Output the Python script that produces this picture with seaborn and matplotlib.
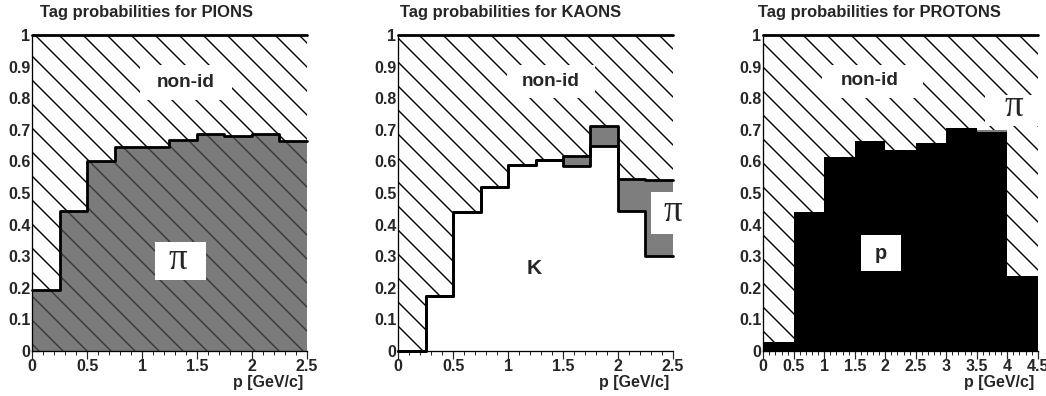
import numpy as np
import matplotlib
matplotlib.use("Agg")
import matplotlib.pyplot as plt
from matplotlib.patches import Rectangle
from matplotlib.ticker import MultipleLocator, FormatStrFormatter
import seaborn as sns

# --- data (tag probability per momentum bin) ---
pk_edges = [0.0, 0.25, 0.5, 0.75, 1.0, 1.25, 1.5, 1.75, 2.0, 2.25, 2.5]
proton_edges = [0.0, 0.5, 1.0, 1.5, 2.0, 2.5, 3.0, 3.5, 4.0, 4.5]

pions_pi = [0.193, 0.444, 0.602, 0.647, 0.647, 0.668, 0.686, 0.680, 0.688, 0.664]

kaons_k = [0.0, 0.174, 0.440, 0.520, 0.588, 0.605, 0.586, 0.649, 0.442, 0.300]
kaons_pi = [0.0, 0.0, 0.0, 0.0, 0.0, 0.0, 0.032, 0.064, 0.103, 0.241]

protons_p = [0.030, 0.441, 0.615, 0.666, 0.636, 0.659, 0.705, 0.692, 0.237]
protons_pi = [0.0, 0.0, 0.0, 0.0, 0.0, 0.0, 0.0, 0.008, 0.0]

titles = ["Tag probabilities for PIONS", "Tag probabilities for KAONS",
          "Tag probabilities for PROTONS"]

sns.set_style("white")
plt.rcParams["font.family"] = ["Liberation Sans", "DejaVu Sans"]
plt.rcParams["font.weight"] = "bold"
plt.rcParams["hatch.linewidth"] = 1.4

DPI = 72
W, H = 1046, 396
fig = plt.figure(figsize=(W / DPI, H / DPI), dpi=DPI)

CHECKER = "#7e7e7e"
LW = 2.8
TICK_FS = 16


def centers(edges):
    e = np.asarray(edges)
    return (e[:-1] + e[1:]) / 2


def layer(ax, edges, heights, **kw):
    sns.histplot(x=centers(edges), weights=heights, bins=edges, element="step",
                 fill=True, linewidth=0, ax=ax, **kw)


def outline(ax, edges, heights):
    sns.histplot(x=centers(edges), weights=heights, bins=edges, element="step",
                 fill=False, color="black", linewidth=LW, ax=ax, clip_on=False)


def label_box(ax, x0, x1, y0, y1):
    ax.add_patch(Rectangle((x0, y0), x1 - x0, y1 - y0, facecolor="white",
                           edgecolor="none", zorder=5))


def pi_text(ax, x, y):
    ax.text(x, y, "\u03c0", family="Liberation Serif", fontweight="normal",
            fontsize=37, ha="center", va="center", zorder=6, clip_on=False)


def style_axes(ax, edges, title_x):
    ax.set_xlim(edges[0], edges[-1])
    ax.set_ylim(0, 1)
    for s in ["top", "right"]:
        ax.spines[s].set_visible(False)
    for s in ["left", "bottom"]:
        ax.spines[s].set_linewidth(1.3)
        ax.spines[s].set_color("black")
        ax.spines[s].set_zorder(7)
    ax.yaxis.set_major_locator(MultipleLocator(0.1))
    ax.yaxis.set_minor_locator(MultipleLocator(0.02))
    ax.xaxis.set_major_locator(MultipleLocator(0.5))
    ax.xaxis.set_minor_locator(MultipleLocator(0.1))
    ax.yaxis.set_major_formatter(FormatStrFormatter("%g"))
    ax.xaxis.set_major_formatter(FormatStrFormatter("%g"))
    ax.tick_params(axis="y", which="major", direction="in", length=8, width=1.2,
                   labelsize=TICK_FS, pad=2, left=True)
    ax.tick_params(axis="y", which="minor", direction="in", length=4, width=1, left=True)
    ax.tick_params(axis="x", which="major", direction="out", length=8, width=1.2,
                   labelsize=TICK_FS, pad=0, bottom=True)
    ax.tick_params(axis="x", which="minor", direction="out", length=4, width=1, bottom=True)
    for lab in ax.get_xticklabels() + ax.get_yticklabels():
        lab.set_fontweight("bold")
    ax.set_ylabel("")
    ax.set_xlabel("p [GeV/c]", fontsize=16, fontweight="bold", ha="right", va="top")
    ax.xaxis.set_label_coords(0.988, -0.076)
    fig.text(title_x / W, 1 - 13 / H, ax.get_label(), fontsize=16.5, fontweight="bold",
             ha="left", va="center")


ax_w, ax_h = 274.4 / W, 316 / H
ax_b = 45 / H

# ---------------- PIONS ----------------
ax1 = fig.add_axes([32.3 / W, ax_b, ax_w, ax_h], label=titles[0])
ones = np.ones(len(pions_pi))
layer(ax1, pk_edges, ones, facecolor="white", edgecolor="black", hatch="\\")
layer(ax1, pk_edges, pions_pi, facecolor=(0.30, 0.30, 0.30, 0.74), edgecolor="none")
outline(ax1, pk_edges, ones)
outline(ax1, pk_edges, pions_pi)
label_box(ax1, 0.98, 1.82, 0.795, 0.905)
ax1.text(1.40, 0.85, "non-id", fontsize=19, ha="center", va="center", zorder=6)
label_box(ax1, 1.117, 1.582, 0.225, 0.345)
pi_text(ax1, 1.33, 0.29)
style_axes(ax1, pk_edges, 40)

# ---------------- KAONS ----------------
ax2 = fig.add_axes([398.3 / W, ax_b, ax_w, ax_h], label=titles[1])
kaons_tot = np.array(kaons_k) + np.array(kaons_pi)
layer(ax2, pk_edges, ones, facecolor="white", edgecolor="black", hatch="\\")
layer(ax2, pk_edges, kaons_tot, facecolor=CHECKER, edgecolor="none")
layer(ax2, pk_edges, kaons_k, facecolor="white", edgecolor="none")
outline(ax2, pk_edges, ones)
outline(ax2, pk_edges, kaons_tot)
outline(ax2, pk_edges, kaons_k)
label_box(ax2, 0.99, 1.795, 0.80, 0.905)
ax2.text(1.39, 0.853, "non-id", fontsize=19, ha="center", va="center", zorder=6)
ax2.text(1.24, 0.26, "K", fontsize=21, ha="center", va="center", zorder=6)
label_box(ax2, 2.30, 2.5, 0.37, 0.503)
pi_text(ax2, 2.505, 0.44)
style_axes(ax2, pk_edges, 400)

# ---------------- PROTONS ----------------
ax3 = fig.add_axes([763.3 / W, ax_b, ax_w, ax_h], label=titles[2])
ones_p = np.ones(len(protons_p))
protons_tot = np.array(protons_p) + np.array(protons_pi)
layer(ax3, proton_edges, ones_p, facecolor="white", edgecolor="black", hatch="\\")
layer(ax3, proton_edges, protons_tot, facecolor=CHECKER, edgecolor="none")
layer(ax3, proton_edges, protons_p, facecolor="black", edgecolor="none")
outline(ax3, proton_edges, ones_p)
label_box(ax3, 0.957, 2.62, 0.80, 0.905)
ax3.text(1.75, 0.855, "non-id", fontsize=19, ha="center", va="center", zorder=6)
label_box(ax3, 1.60, 2.26, 0.254, 0.367)
ax3.text(1.93, 0.31, "p", fontsize=20, ha="center", va="center", zorder=6)
label_box(ax3, 3.63, 4.5, 0.712, 0.81)
pi_text(ax3, 4.10, 0.772)
style_axes(ax3, proton_edges, 758)

fig.savefig("out.png", dpi=DPI)
